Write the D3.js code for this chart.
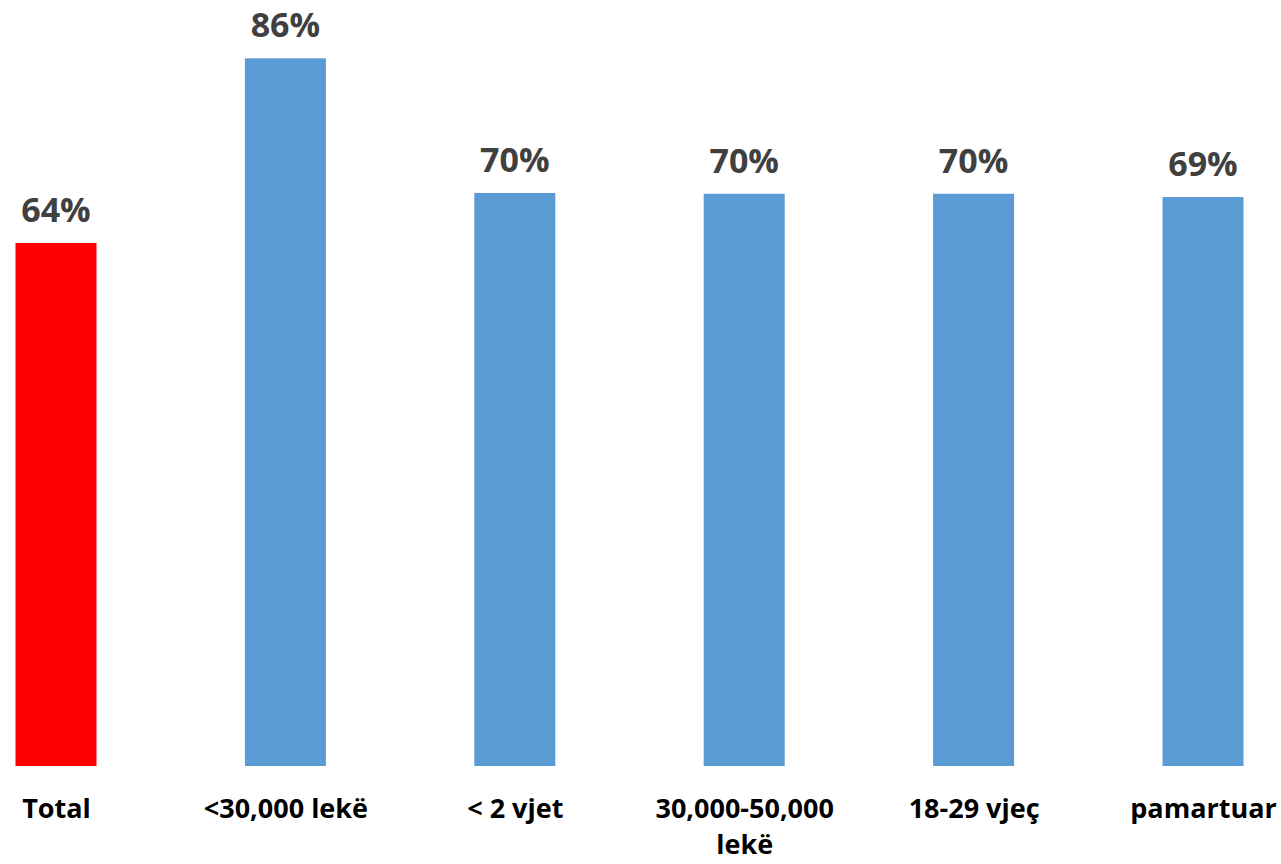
<!DOCTYPE html>
<html>
<head>
<meta charset="utf-8">
<script src="https://cdn.jsdelivr.net/npm/d3@7"></script>
<style>
  html, body { margin: 0; padding: 0; background: #fff; }
  svg { display: block; }
</style>
</head>
<body>
<svg id="chart" width="1281" height="864"></svg>
<script>
const categories = ["Total", "<30,000 lekë", "< 2 vjet", "30,000-50,000 lekë", "18-29 vjeç", "pamartuar"];
const values = [63.7, 86.2, 69.8, 69.7, 69.7, 69.3];
const valueLabels = ["64%", "86%", "70%", "70%", "70%", "69%"];
const barColors = ["#FF0000", "#5B9BD5", "#5B9BD5", "#5B9BD5", "#5B9BD5", "#5B9BD5"];

const svg = d3.select("#chart");
const baseY = 766;
const pxPerUnit = 8.21;

const x = d3.scalePoint().domain(categories).range([56, 1203]);
const barW = 81;
const y = d3.scaleLinear().domain([0, 100]).range([baseY, baseY - 100 * pxPerUnit]);

const font = "'Open Sans', 'Liberation Sans', sans-serif";

svg.append("g").selectAll("rect")
  .data(categories)
  .join("rect")
  .attr("x", d => x(d) - barW / 2)
  .attr("width", barW)
  .attr("y", (d, i) => y(values[i]))
  .attr("height", (d, i) => y(0) - y(values[i]))
  .attr("fill", (d, i) => barColors[i]);

svg.append("g").selectAll("text")
  .data(categories)
  .join("text")
  .attr("x", d => x(d))
  .attr("y", (d, i) => y(values[i]) - 21)
  .attr("text-anchor", "middle")
  .attr("font-family", font)
  .attr("font-weight", "bold")
  .attr("font-size", 34)
  .attr("fill", "#404040")
  .text((d, i) => valueLabels[i]);

const axis = d3.axisBottom(x).tickSize(0).tickPadding(0);
const gx = svg.append("g").attr("transform", `translate(0, ${baseY})`).call(axis);
gx.select(".domain").remove();
gx.selectAll(".tick text")
  .attr("font-family", font)
  .attr("font-weight", "bold")
  .attr("font-size", 27)
  .attr("fill", "#000")
  .attr("dy", null)
  .attr("y", 52)
  .each(function () { wrap(d3.select(this), 200); });

function wrap(text, width) {
  const words = text.text().split(/\s+/);
  const yy = +text.attr("y");
  text.text(null);
  let line = [];
  let lineNo = 0;
  let tspan = text.append("tspan").attr("x", 0).attr("y", yy);
  for (const w of words) {
    line.push(w);
    tspan.text(line.join(" "));
    if (tspan.node().getComputedTextLength() > width && line.length > 1) {
      line.pop();
      tspan.text(line.join(" "));
      line = [w];
      lineNo++;
      tspan = text.append("tspan").attr("x", 0).attr("y", yy + lineNo * 36).text(w);
    }
  }
}
</script>
</body>
</html>
